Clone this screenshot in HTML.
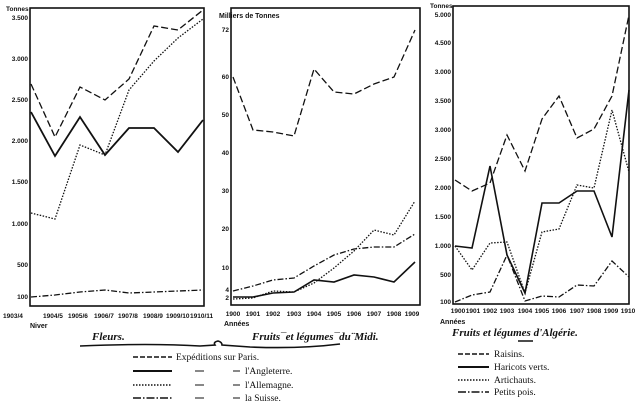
<!DOCTYPE html>
<html><head><meta charset="utf-8"><style>
body{margin:0;background:#fff;}
svg{display:block;font-family:"Liberation Sans",sans-serif;}
.t{font-size:7px;font-weight:bold;fill:#111;}
.s{font-size:6.5px;font-weight:bold;fill:#111;}
.i{font-family:"Liberation Serif",serif;font-style:italic;font-weight:bold;font-size:11px;fill:#111;}
.l{font-family:"Liberation Serif",serif;font-size:9.5px;fill:#111;}
</style></head><body>
<svg width="640" height="402" viewBox="0 0 640 402">
<g fill="none" stroke="#111" stroke-width="1.6">
<rect x="30" y="8" width="174" height="298"/>
<rect x="231" y="8" width="189" height="297"/>
<rect x="453" y="6" width="176" height="298"/>
</g>
<g class="s" text-anchor="end">
<text x="28" y="20">3.500</text><text x="28" y="61">3.000</text><text x="28" y="102">2.500</text><text x="28" y="143">2.000</text><text x="28" y="184">1.500</text><text x="28" y="226">1.000</text><text x="28" y="267">500</text><text x="28" y="299">100</text>
</g>
<text x="6" y="11" class="s">Tonnes</text>
<g class="s" font-size="5.5">
<text x="3" y="318">1903/4</text><text x="43" y="318">1904/5</text><text x="68" y="318">1905/6</text><text x="94" y="318">1906/7</text><text x="118" y="318">1907/8</text><text x="143" y="318">1908/9</text><text x="166" y="318">1909/10</text><text x="190" y="318">1910/11</text>
</g>
<text x="30" y="328" class="t" font-size="8">Niver</text>
<text x="92" y="340" class="i">Fleurs.</text>
<g fill="none" stroke="#111" stroke-width="1.3">
<polyline points="31,84 55,137 80,87 105,100 129,79 154,26 178,30 203,10" stroke-dasharray="7,3"/>
<polyline points="31,112 55,156 80,117 105,155 129,128 154,128 178,152 203,120" stroke-width="1.8"/>
<polyline points="31,213 55,219 80,145 105,155 129,90 154,61 178,38 203,19" stroke-dasharray="1.5,1.5"/>
<polyline points="31,297 55,295 80,292 105,290 129,293 154,292 178,291 203,290" stroke-dasharray="6,2,1.5,2"/>
</g>
<text x="219" y="18" class="t" font-size="9">Milliers de Tonnes</text>
<g class="s" text-anchor="end">
<text x="229" y="32">72</text><text x="229" y="79">60</text><text x="229" y="117">50</text><text x="229" y="155">40</text><text x="229" y="193">30</text><text x="229" y="231">20</text><text x="229" y="270">10</text><text x="229" y="292">4</text><text x="229" y="300">2</text>
</g>
<g class="s" font-size="5.5" text-anchor="middle">
<text x="233" y="316">1900</text><text x="253" y="316">1901</text><text x="273" y="316">1902</text><text x="294" y="316">1903</text><text x="314" y="316">1904</text><text x="334" y="316">1905</text><text x="354" y="316">1906</text><text x="374" y="316">1907</text><text x="394" y="316">1908</text><text x="412" y="316">1909</text>
</g>
<text x="224" y="326" class="t" font-size="8">Années</text>
<text x="252" y="340" class="i">Fruits¯et légumes¯du¨Midi.</text>
<g fill="none" stroke="#111" stroke-width="1.3">
<polyline points="233,77 253,130 273,132 294,136 314,69 334,92 354,94 374,84 394,77 415,30" stroke-dasharray="7,3"/>
<polyline points="233,291 253,286 273,280 294,278 314,266 334,255 354,249 374,247 394,247 415,234" stroke-dasharray="6,2,1.5,2"/>
<polyline points="233,297 253,297 273,293 294,292 314,280 334,282 354,275 374,277 394,282 415,262" stroke-width="1.6"/>
<polyline points="233,299 253,298 273,291 294,292 314,283 334,268 354,251 374,230 394,235 415,201" stroke-dasharray="1.5,1.5"/>
</g>
<text x="430" y="8" class="s">Tonnes</text>
<g class="s" text-anchor="end">
<text x="451" y="17">5.000</text><text x="451" y="45">4.500</text><text x="451" y="74">3.000</text><text x="451" y="103">3.500</text><text x="451" y="132">3.000</text><text x="451" y="161">2.500</text><text x="451" y="190">2.000</text><text x="451" y="219">1.500</text><text x="451" y="248">1.000</text><text x="451" y="277">500</text><text x="451" y="304">100</text>
</g>
<g class="s" font-size="5.5" text-anchor="middle">
<text x="458" y="313">1900</text><text x="473" y="313">1901</text><text x="490" y="313">1902</text><text x="507" y="313">1903</text><text x="525" y="313">1904</text><text x="542" y="313">1905</text><text x="559" y="313">1906</text><text x="577" y="313">1907</text><text x="594" y="313">1908</text><text x="611" y="313">1909</text><text x="628" y="313">1910</text>
</g>
<text x="440" y="324" class="t" font-size="8">Années</text>
<text x="452" y="336" class="i">Fruits et légumes d'Algérie.</text>
<line x1="518" y1="341" x2="533" y2="341" stroke="#111" stroke-width="1.5"/>
<g fill="none" stroke="#111" stroke-width="1.3">
<polyline points="455,180 472,191 490,183 507,135 525,171 542,119 559,96 577,138 594,129 612,96 629,15" stroke-dasharray="7,3"/>
<polyline points="455,246 472,248 490,166 507,255 525,293 542,203 559,203 577,191 594,191 612,237 629,90" stroke-width="1.6"/>
<polyline points="455,246 472,270 490,243 507,242 525,293 542,232 559,229 577,185 594,188 612,110 629,172" stroke-dasharray="1.5,1.5"/>
<polyline points="455,302 472,295 490,292 507,255 525,301 542,296 559,297 577,285 594,286 612,261 629,277" stroke-dasharray="6,2,1.5,2"/>
</g>
<path d="M80,346 Q150,343 200,346 L215,345 Q213,342 218,341 Q222,342 222,345 L250,347 Q300,349 340,344" fill="none" stroke="#111" stroke-width="1.6"/>
<g stroke="#111" stroke-width="1.6">
<line x1="133" y1="357" x2="172" y2="357" stroke-dasharray="5,2"/>
<line x1="133" y1="371" x2="172" y2="371" stroke-width="2"/>
<line x1="133" y1="385" x2="172" y2="385" stroke-dasharray="1.5,1.5"/>
<line x1="133" y1="398" x2="172" y2="398" stroke-dasharray="8,2,1.5,2"/>
<line x1="195" y1="371" x2="204" y2="371" stroke-width="1"/>
<line x1="195" y1="385" x2="204" y2="385" stroke-width="1"/>
<line x1="195" y1="398" x2="204" y2="398" stroke-width="1"/>
<line x1="233" y1="371" x2="240" y2="371" stroke-width="1"/>
<line x1="233" y1="385" x2="240" y2="385" stroke-width="1"/>
<line x1="233" y1="398" x2="240" y2="398" stroke-width="1"/>
</g>
<g class="l">
<text x="176" y="360">Expéditions sur Paris.</text>
<text x="245" y="374">l'Angleterre.</text>
<text x="245" y="388">l'Allemagne.</text>
<text x="245" y="401">la Suisse.</text>
</g>
<g stroke="#111" stroke-width="1.6">
<line x1="458" y1="354" x2="489" y2="354" stroke-dasharray="5,2"/>
<line x1="458" y1="367" x2="489" y2="367" stroke-width="2"/>
<line x1="458" y1="380" x2="489" y2="380" stroke-dasharray="1.5,1.5"/>
<line x1="458" y1="392" x2="489" y2="392" stroke-dasharray="8,2,1.5,2"/>
</g>
<g class="l">
<text x="494" y="357">Raisins.</text>
<text x="494" y="370">Haricots verts.</text>
<text x="494" y="383">Artichauts.</text>
<text x="494" y="395">Petits pois.</text>
</g>
</svg>
</body></html>
